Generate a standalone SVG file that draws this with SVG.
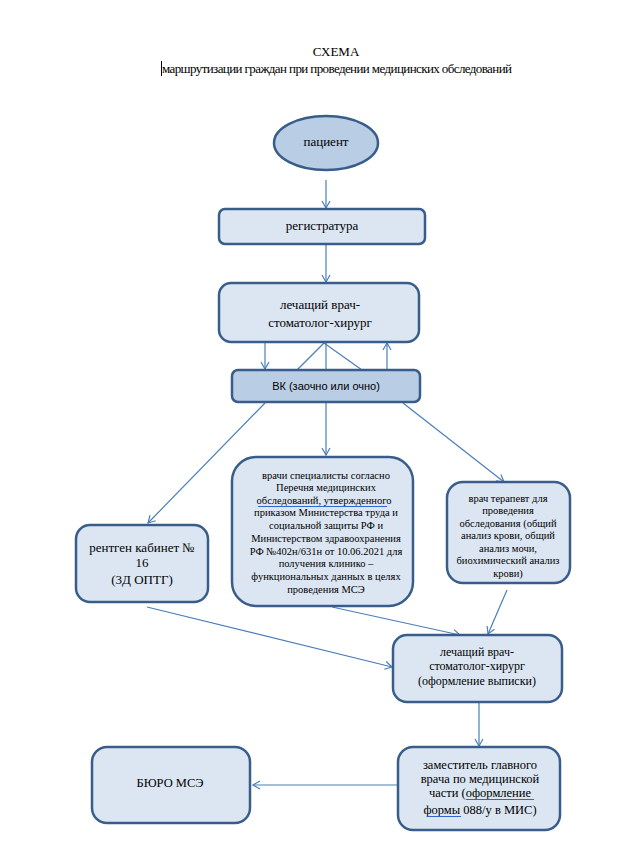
<svg xmlns="http://www.w3.org/2000/svg" width="622" height="865" viewBox="0 0 622 865">
<style>
.box{fill:#dce6f2;stroke:#385d8a;stroke-width:2.5}
.dark{fill:#b9cde5;stroke:#385d8a;stroke-width:2.5}
.c{stroke:#4a7ebb;stroke-width:1.2;fill:none}
.u{stroke:#3366cc;stroke-width:1;fill:none}
</style>
<defs>
<marker id="ah" markerUnits="userSpaceOnUse" markerWidth="12" markerHeight="12" refX="8" refY="5" orient="auto">
<path d="M1,1 L8,5 L1,9" fill="none" stroke="#4a7ebb" stroke-width="1.2"/>
</marker>
</defs>
<rect width="622" height="865" fill="#fff"/>
<g id="title" font-family="Liberation Serif" text-anchor="middle" fill="#000">
<text x="336" y="56" font-size="13">СХЕМА</text>
<text x="337" y="73" font-size="13" textLength="350">маршрутизации граждан при проведении медицинских обследований</text>
<line x1="161.5" y1="61" x2="161.5" y2="76" stroke="#000" stroke-width="1"/>
</g>
<g id="connectors">
<line class="c" x1="326" y1="180" x2="326" y2="208" marker-end="url(#ah)"/>
<line class="c" x1="326" y1="245" x2="326" y2="282" marker-end="url(#ah)"/>
<line class="c" x1="265" y1="343" x2="265" y2="369" marker-end="url(#ah)"/>
<line class="c" x1="387" y1="370" x2="387" y2="343" marker-end="url(#ah)"/>
<line class="c" x1="324" y1="343" x2="297" y2="370"/>
<line class="c" x1="326" y1="343" x2="326" y2="370"/>
<line class="c" x1="324" y1="343" x2="362" y2="370"/>
<line class="c" x1="265" y1="403" x2="148" y2="523" marker-end="url(#ah)"/>
<line class="c" x1="326" y1="403" x2="326" y2="455" marker-end="url(#ah)"/>
<line class="c" x1="403" y1="403" x2="504" y2="482" marker-end="url(#ah)"/>
<line class="c" x1="147" y1="607" x2="392" y2="667" marker-end="url(#ah)"/>
<line class="c" x1="332" y1="607" x2="460" y2="635" marker-end="url(#ah)"/>
<line class="c" x1="507" y1="590" x2="488" y2="634" marker-end="url(#ah)"/>
<line class="c" x1="479" y1="703" x2="479" y2="746" marker-end="url(#ah)"/>
<line class="c" x1="397" y1="785" x2="253" y2="785" marker-end="url(#ah)"/>
</g>
<g id="patient" font-family="Liberation Serif" text-anchor="middle" fill="#000">
<ellipse class="dark" cx="326" cy="143" rx="52" ry="27"/>
<text x="326" y="146" font-size="13">пациент</text>
</g>
<g id="registry" font-family="Liberation Serif" text-anchor="middle" fill="#000">
<rect class="box" x="219" y="209" width="206" height="35" rx="6"/>
<text x="322" y="230" font-size="13">регистратура</text>
</g>
<g id="doctor1" font-family="Liberation Serif" text-anchor="middle" fill="#000">
<rect class="box" x="219" y="283" width="200" height="59" rx="12"/>
<text x="320" y="309" font-size="13">лечащий врач-</text>
<text x="320" y="327" font-size="13">стоматолог-хирург</text>
</g>
<g id="vk" font-family="Liberation Sans" text-anchor="middle" fill="#000">
<rect class="dark" x="232" y="370" width="188" height="32" rx="6"/>
<text x="326" y="390" font-size="11">ВК (заочно или очно)</text>
</g>
<g id="xray" font-family="Liberation Serif" text-anchor="middle" fill="#000">
<rect class="box" x="76" y="525" width="132" height="77" rx="14"/>
<text x="142" y="552" font-size="13">рентген кабинет №</text>
<text x="142" y="567" font-size="13">16</text>
<text x="142" y="584" font-size="13">(3Д ОПТГ)</text>
</g>
<g id="specialists" font-family="Liberation Serif" text-anchor="middle" fill="#000">
<rect class="box" x="232" y="457" width="181" height="149" rx="24"/>
<g font-size="10.5">
<text x="326" y="479">врачи специалисты согласно</text>
<text x="326" y="491">Перечня медицинских</text>
<text x="324" y="504">обследований,  утвержденного</text>
<text x="326" y="516">приказом Министерства труда и</text>
<text x="326" y="529">социальной защиты РФ и</text>
<text x="326" y="542">Министерством здравоохранения</text>
<text x="326" y="555">РФ №402н/631н от 10.06.2021 для</text>
<text x="326" y="567">получения клинико –</text>
<text x="326" y="580">функциональных данных в целях</text>
<text x="326" y="593">проведения МСЭ</text>
</g>
<line class="u" x1="258" y1="506.5" x2="387" y2="506.5"/>
</g>
<g id="therapist" font-family="Liberation Serif" text-anchor="middle" fill="#000">
<rect class="box" x="447" y="482" width="123" height="101" rx="16"/>
<g font-size="10.5">
<text x="508" y="502">врач терапевт для</text>
<text x="508" y="514">проведения</text>
<text x="508" y="527">обследования (общий</text>
<text x="508" y="539">анализ крови, общий</text>
<text x="508" y="552">анализ мочи,</text>
<text x="508" y="564">биохимический анализ</text>
<text x="508" y="577">крови)</text>
</g>
</g>
<g id="doctor2" font-family="Liberation Serif" text-anchor="middle" fill="#000">
<rect class="box" x="393" y="635" width="169" height="67" rx="14"/>
<text x="477" y="656" font-size="12">лечащий врач-</text>
<text x="477" y="670" font-size="12">стоматолог-хирург</text>
<text x="477" y="685" font-size="12">(оформление выписки)</text>
</g>
<g id="deputy" font-family="Liberation Serif" text-anchor="middle" fill="#000">
<rect class="box" x="398" y="747" width="162" height="83" rx="15"/>
<g font-size="12.5">
<text x="480" y="769">заместитель главного</text>
<text x="480" y="783">врача по медицинской</text>
<text x="480" y="797">части (оформление </text>
<text x="480" y="814">формы 088/у в МИС)</text>
</g>
<line class="u" x1="466" y1="799.5" x2="534" y2="799.5"/>
<line class="u" x1="427" y1="816.5" x2="461" y2="816.5"/>
</g>
<g id="bureau" font-family="Liberation Serif" text-anchor="middle" fill="#000">
<rect class="box" x="92" y="747" width="158" height="76" rx="15"/>
<text x="170" y="787" font-size="12.5">БЮРО МСЭ</text>
</g>
</svg>
